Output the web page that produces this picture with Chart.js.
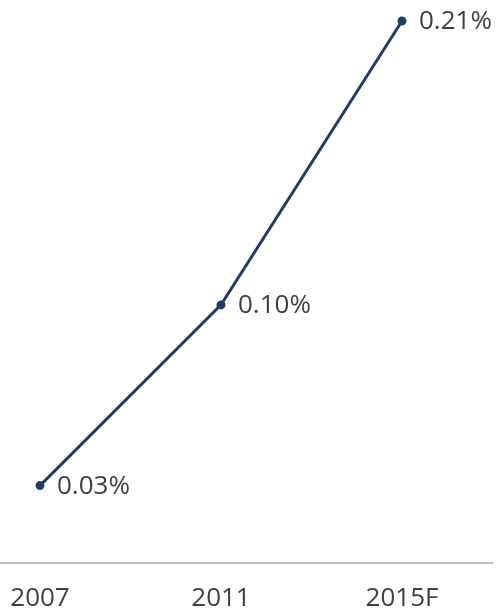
<!DOCTYPE html>
<html>
<head>
<meta charset="utf-8">
<script src="https://cdn.jsdelivr.net/npm/chart.js@4/dist/chart.umd.min.js"></script>
<style>
  html, body { margin: 0; padding: 0; background: #fff; }
  #wrap { width: 496px; height: 610px; }
</style>
</head>
<body>
<div id="wrap"><canvas id="grafico"></canvas></div>
<script>
const anos = ['2007', '2011', '2015F']
const valores = [0.03, 0.10, 0.21]
const rotulos = ['0.03%', '0.10%', '0.21%']

const fonte = '"Open Sans", "DejaVu Sans", sans-serif'
const corTexto = '#404040'

// rotulos a direita de cada ponto + linha do eixo x
const rotulosPlugin = {
  id: 'rotulos',
  afterDatasetsDraw(chart) {
    const ctx = chart.ctx
    const area = chart.chartArea
    ctx.save()
    ctx.strokeStyle = '#a6a6a6'
    ctx.lineWidth = 1.5
    ctx.beginPath()
    ctx.moveTo(0, area.bottom)
    ctx.lineTo(493, area.bottom)
    ctx.stroke()

    ctx.font = '26px ' + fonte
    ctx.fillStyle = corTexto
    ctx.textBaseline = 'middle'
    ctx.textAlign = 'left'
    chart.getDatasetMeta(0).data.forEach((p, i) => {
      ctx.fillText(rotulos[i], p.x + 17, p.y + 1)
    })
    ctx.restore()
  }
}

new Chart(document.getElementById('grafico'), {
  type: 'line',
  data: {
    labels: anos,
    datasets: [{
      data: valores,
      borderColor: '#1f3d6b',
      backgroundColor: '#1f3d6b',
      borderWidth: 3,
      pointRadius: 3,
      tension: 0,
      clip: false
    }]
  },
  options: {
    responsive: true,
    maintainAspectRatio: false,
    animation: false,
    layout: { padding: { left: 40, right: 94, top: 21, bottom: 0 } },
    plugins: { legend: { display: false }, tooltip: { enabled: false } },
    scales: {
      x: {
        offset: false,
        grid: { display: false },
        border: { display: false },
        ticks: { color: corTexto, font: { family: fonte, size: 26 }, padding: 12, maxRotation: 0 },
        afterFit(scale) {
          scale.height = 47
          scale.paddingLeft = 0
          scale.paddingRight = 0
        }
      },
      y: {
        display: false,
        min: 0,
        max: 0.21
      }
    }
  },
  plugins: [rotulosPlugin]
})
</script>
</body>
</html>
